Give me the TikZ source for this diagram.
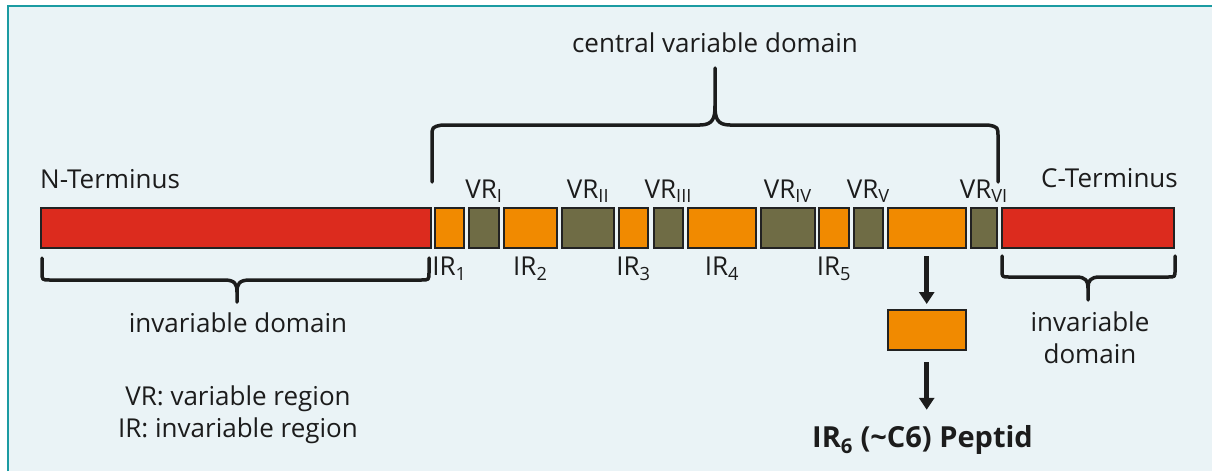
\documentclass[tikz,border=0pt]{standalone}
\usepackage{fontspec}
\setmainfont{Open Sans}
\usetikzlibrary{positioning,arrows.meta}

\definecolor{bgblue}{HTML}{EAF3F6}
\definecolor{frameteal}{HTML}{1B9BA2}
\definecolor{termred}{HTML}{DC2B1E}
\definecolor{irorange}{HTML}{F18A00}
\definecolor{vrolive}{HTML}{6F6C45}
\definecolor{segline}{HTML}{222222}
\definecolor{inkgray}{HTML}{1C1C1C}

\tikzset{
  seg/.style={draw=segline, line width=2pt, minimum height=40pt, inner sep=0pt},
  term/.style={seg, fill=termred},
  irseg/.style={seg, fill=irorange},
  vrseg/.style={seg, fill=vrolive},
  lbl/.style={inner sep=0pt, text=inkgray, font=\fontsize{26}{31.5}\selectfont},
  brc/.style={draw=inkgray, line width=3.5pt, line cap=round, line join=round},
  flow/.style={draw=inkgray, line width=5pt, -{Triangle[width=15pt,length=12pt]}},
}

\begin{document}
\begin{tikzpicture}[x=1pt, y=-1pt]
  \useasboundingbox (0,0) rectangle (1212,471);
  % panel
  \fill[white] (0,0) rectangle (1212,471);
  \fill[bgblue] (8,6) rectangle (1212,471);
  \draw[frameteal, line width=2.5pt] (8,471) -- (8,6) -- (1212,6);

  % the chain, N to C
  \foreach \name/\x/\w/\kind in {
      nterm/235.8/389.7/term,
      ir1/449.5/29/irseg, vr1/484/30/vrseg,
      ir2/530.3/52.7/irseg, vr2/588/52/vrseg,
      ir3/633.5/29/irseg, vr3/668.3/29.3/vrseg,
      ir4/722/68/irseg, vr4/787.8/53.7/vrseg,
      ir5/834/30/irseg, vr5/868.3/29.3/vrseg,
      ir6/926.7/78/irseg, vr6/983.8/26.3/vrseg,
      cterm/1087.8/172.3/term}
    \node[\kind, minimum width=\w pt] (\name) at (\x,228) {};

  \foreach \name/\num in {vr1/I, vr2/II, vr3/III, vr4/IV, vr5/V, vr6/VI}
    \node[lbl, above=4pt of \name] (\name-lbl) {VR\textsubscript{\num}};
  \foreach \n in {1,...,5}
    \node[lbl, below=8pt of ir\n] (ir\n-lbl) {IR\textsubscript{\n}};

  \node[lbl, anchor=base west] (nterm-lbl) at (40,188) {N-Terminus};
  \node[lbl, anchor=base east] (cterm-lbl) at (1178,187) {C-Terminus};

  % braces
  \draw[brc] (432,182) -- (432,137) .. controls (432,127) .. (442,125) -- (700,125)
    .. controls (713,125) and (715,118) .. (715,106) -- (715,68);
  \draw[brc] (998,182) -- (998,137) .. controls (998,127) .. (988,125) -- (730,125)
    .. controls (717,125) and (715,118) .. (715,106);
  \node[lbl, anchor=base] (central-lbl) at (715,52) {central variable domain};

  \draw[brc] (42,258) -- (42,272) .. controls (42,280) .. (50,280) -- (224,280)
    .. controls (235,280) and (237,284) .. (237,292) -- (237,302);
  \draw[brc] (429,258) -- (429,272) .. controls (429,280) .. (421,280) -- (250,280)
    .. controls (239,280) and (237,284) .. (237,292);
  \node[lbl, anchor=base] (ninv-lbl) at (238,332) {invariable domain};

  \draw[brc] (1002,256) -- (1002,270) .. controls (1002,277) .. (1009,277) -- (1076,277)
    .. controls (1086,277) and (1088,281) .. (1088,288) -- (1088,300);
  \draw[brc] (1175,256) -- (1175,270) .. controls (1175,277) .. (1168,277) -- (1100,277)
    .. controls (1090,277) and (1088,281) .. (1088,288);
  \node[lbl, align=center, anchor=north] (cinv-lbl) at (1090,312) {invariable\\domain};

  % cleavage of IR6
  \node[irseg, minimum width=78pt] (pepbox) at (926.7,330) {};
  \node[lbl, font=\fontsize{29}{34}\selectfont\bfseries, anchor=base] (peptid) at (922.5,447)
    {IR\textsubscript{6} (\textasciitilde C6) Peptid};
  \draw[flow, shorten <=7pt, shorten >=5pt] (ir6) -- (pepbox);
  \draw[flow, shorten <=11pt, shorten >=15pt] (pepbox.south) -- (pepbox.south |- peptid.north);

  % legend
  \node[lbl, align=center, anchor=north] (legend) at (238,386) {VR: variable region\\IR: invariable region};
\end{tikzpicture}
\end{document}
